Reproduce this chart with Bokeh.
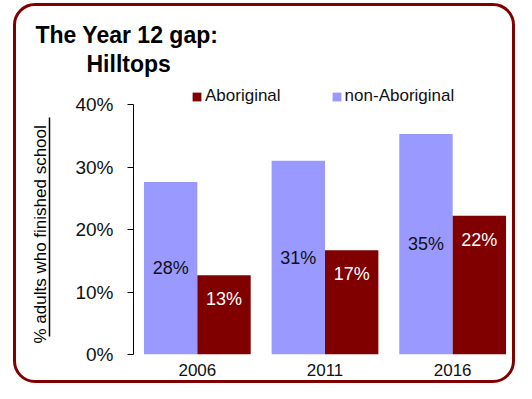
from bokeh.plotting import figure
from bokeh.models import (ColumnDataSource, FactorRange, Legend, LegendItem, Title,
                          LinearAxis, PrintfTickFormatter, FixedTicker, InlineStyleSheet)
from bokeh.transform import dodge
from bokeh.core.properties import value
from bokeh.embed import file_html
from bokeh.resources import INLINE

years = ["2006", "2011", "2016"]
non_aboriginal = [27.6, 31.0, 35.3]
aboriginal = [12.7, 16.7, 22.2]
non_ab_labels = ["28%", "31%", "35%"]
ab_labels = ["13%", "17%", "22%"]
y_ticks = [0, 10, 20, 30, 40]
title_lines = ["The Year 12 gap:", "Hilltops"]
y_label = "% adults who finished school"
series_names = ["Aboriginal", "non-Aboriginal"]

FONT = "Liberation Sans"
AB_COLOR = "#800000"
NON_COLOR = "#9999ff"
W, H = 516, 383

src = ColumnDataSource(dict(
    year=years, non=non_aboriginal, ab=aboriginal,
    non_mid=[v / 2 for v in non_aboriginal],
    non_lab=non_ab_labels, ab_lab=ab_labels,
))

# frame spans 78..354 px; the 0-40 % axis occupies its lower 250 px, legend sits above
p = figure(width=W, height=H, x_range=FactorRange(*years), y_range=(0, 44.16),
           output_backend="svg", toolbar_location=None,
           min_border_left=133, min_border_right=0, min_border_top=78, min_border_bottom=29)
p.outline_line_color = None
p.xgrid.visible = False
p.ygrid.visible = False
p.background_fill_color = "white"
p.border_fill_color = "white"

bw = 0.418
non_r = p.vbar(x=dodge("year", -bw / 2, range=p.x_range), top="non", width=bw, source=src,
               fill_color=NON_COLOR, line_color=None)
ab_r = p.vbar(x=dodge("year", bw / 2, range=p.x_range), top="ab", width=bw, source=src,
              fill_color=AB_COLOR, line_color=None)

p.text(x=dodge("year", -bw / 2, range=p.x_range), y="non_mid", text="non_lab", source=src,
       text_align="center", text_baseline="middle", text_font=value(FONT),
       text_font_size="18px", text_color="#111111")
p.text(x=dodge("year", bw / 2, range=p.x_range), y="ab", text="ab_lab", source=src,
       y_offset=24, text_align="center", text_baseline="middle", text_font=value(FONT),
       text_font_size="18px", text_color="white")

# primary y axis
ya = p.yaxis[0]
ya.bounds = (0, 40)
ya.ticker = FixedTicker(ticks=y_ticks)
ya.formatter = PrintfTickFormatter(format="%d%%")
ya.major_tick_out = 6
ya.major_tick_in = 0
ya.minor_tick_out = 0
ya.minor_tick_in = 0
ya.major_label_standoff = 14
ya.major_label_text_font = FONT
ya.major_label_text_font_size = "19px"
ya.major_label_text_color = "#111111"
ya.axis_line_color = "black"
ya.major_tick_line_color = "black"
ya.axis_label = " "
ya.axis_label_text_font_size = "1px"
ya.axis_label_standoff = 19

# outer axis: only its line, which underlines the y label
ua = LinearAxis(ticker=FixedTicker(ticks=[]), bounds=(2.9, 38),
                major_tick_out=0, major_tick_in=0, minor_tick_out=0, minor_tick_in=0,
                major_label_standoff=0, major_label_text_font_size="1px",
                axis_line_color="black", axis_line_width=1.5)
p.add_layout(ua, "left")

# y label as a left-side title so it can be shifted along the axis
p.add_layout(Title(text=y_label, align="left", offset=11, standoff=0,
                   text_font=FONT, text_font_size="17px", text_font_style="normal",
                   text_color="black"), "left")

xa = p.xaxis[0]
xa.axis_line_color = None
xa.major_tick_line_color = None
xa.minor_tick_line_color = None
xa.major_label_standoff = 3
xa.major_label_text_font = FONT
xa.major_label_text_font_size = "17px"
xa.major_label_text_color = "#111111"

legend = Legend(items=[LegendItem(label=series_names[0], renderers=[ab_r]),
                       LegendItem(label=series_names[1], renderers=[non_r])],
                orientation="horizontal", location=(58, 248),
                padding=0, margin=0, spacing=50, label_standoff=3,
                glyph_width=11, glyph_height=11,
                border_line_color=None, background_fill_alpha=0,
                label_text_font=FONT, label_text_font_size="17px",
                label_text_color="#111111")
p.add_layout(legend)

p.add_layout(Title(text=title_lines[1], align="left", offset=-47, standoff=3,
                   text_font=FONT, text_font_size="23px", text_font_style="bold",
                   text_color="black"), "above")
p.add_layout(Title(text=title_lines[0], align="left", offset=-98, standoff=0,
                   text_font=FONT, text_font_size="23px", text_font_style="bold",
                   text_color="black"), "above")

# rounded chart border
p.stylesheets = [InlineStyleSheet(css=(
    ":host::after { content: ''; position: absolute; left: 13px; top: 3px; right: 1px; "
    "bottom: 0px; border: 3px solid #800000; border-radius: 22px; "
    "pointer-events: none; box-sizing: border-box; }"
))]

open("out.html", "w").write(file_html(p, INLINE))
